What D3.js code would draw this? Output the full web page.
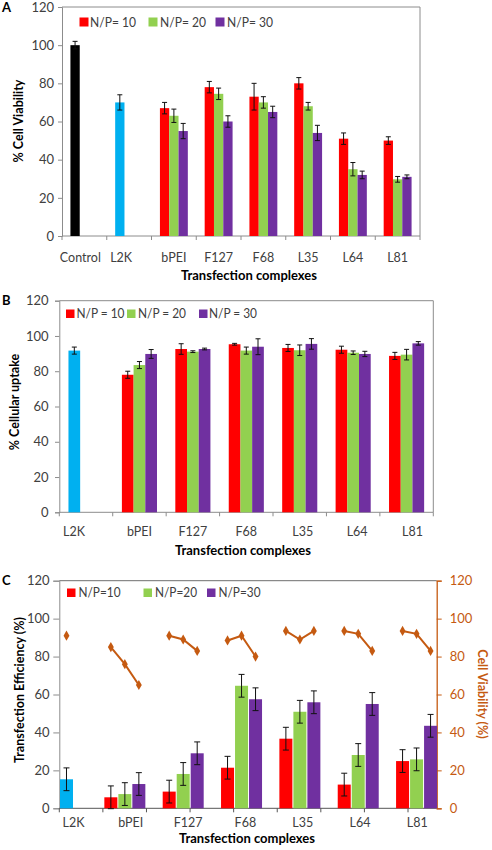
<!DOCTYPE html>
<html><head><meta charset="utf-8">
<script src="https://cdn.jsdelivr.net/npm/d3@7"></script>
<style>
body{margin:0;background:#fff}
svg text{font-family:Lato,'Open Sans',sans-serif}
</style>
</head><body>
<svg id="chart" width="492" height="850"></svg>
<script>
// ---------- DATA ----------
const seriesNames = ["N/P= 10", "N/P= 20", "N/P= 30"];
const seriesNamesB = ["N/P = 10", "N/P = 20", "N/P = 30"];
const seriesNamesC = ["N/P=10", "N/P=20", "N/P=30"];
const yTicks = [0, 20, 40, 60, 80, 100, 120];

// Panel A: % Cell Viability
const catsA = ["Control", "L2K", "bPEI", "F127", "F68", "L35", "L64", "L81"];
const singleA = [{cat: "Control", v: 100, e: 2, color: "#000000"}, {cat: "L2K", v: 70, e: 4, color: "#00b0f0"}];
const np10A = [null, null, 67, 78, 73, 80, 51, 50];
const err10A = [null, null, 3, 3, 7, 3, 3, 2];
const np20A = [null, null, 63, 74.5, 70, 68, 35, 29.7];
const err20A = [null, null, 3.5, 3, 3, 2, 3.5, 1.5];
const np30A = [null, null, 55, 60, 65, 54, 32, 31];
const err30A = [null, null, 4, 3, 3, 4, 2, 1];

// Panel B: % Cellular uptake
const catsB = ["L2K", "bPEI", "F127", "F68", "L35", "L64", "L81"];
const singleB = [{cat: "L2K", v: 91.7, e: 2, color: "#00b0f0"}];
const np10B = [null, 78, 92.6, 95.3, 93.2, 92.2, 88.7];
const err10B = [null, 2, 3, 0.5, 2, 2, 2];
const np20B = [null, 83.5, 91.1, 91.7, 91.9, 90.5, 89.4];
const err20B = [null, 2, 0.5, 2, 3, 1, 3];
const np30B = [null, 89.8, 92.6, 93.9, 95.5, 89.8, 95.8];
const err30B = [null, 2.5, 0.5, 4.5, 3, 1.5, 1];

// Panel C: Transfection efficiency + cell viability
const catsC = ["L2K", "bPEI", "F127", "F68", "L35", "L64", "L81"];
const singleC = [{cat: "L2K", v: 15.3, e: 6, color: "#00b0f0"}];
const np10C = [null, 5.8, 8.8, 21.4, 36.7, 12.5, 24.9];
const np20C = [null, 7.5, 18.1, 64.6, 50.9, 28.1, 25.8];
const np30C = [null, 12.8, 29, 57.5, 55.9, 55, 43.5];
const errC = [null, 6, 6, 6, 6, 6, 6];
const viabL2K = [91];
const viab10C = [null, 85, 91, 88.5, 93.5, 93.5, 93.5];
const viab20C = [null, 76, 89, 91, 89, 92, 92];
const viab30C = [null, 65, 83, 80, 93.5, 83, 83];

// ---------- STYLE ----------
const colors = ["#ff0000", "#92d050", "#7030a0"];
const orange = "#c55a11";
const axisGray = "#8c8c8c";
const tickText = "#404040";

const svg = d3.select("#chart");

function errorBar(g, cx, y, v, e, cap) {
  if (e == null) return;
  const y1 = y(v - e), y2 = y(v + e);
  g.append("line").attr("x1", cx).attr("x2", cx).attr("y1", y1).attr("y2", y2)
    .attr("stroke", "#111").attr("stroke-width", 1);
  [y1, y2].forEach(yy => g.append("line").attr("x1", cx - cap).attr("x2", cx + cap)
    .attr("y1", yy).attr("y2", yy).attr("stroke", "#111").attr("stroke-width", 1));
}

function yAxisLeft(g, y, x0, tickSize, pad) {
  const ax = g.append("g").attr("transform", `translate(${x0},0)`)
    .call(d3.axisLeft(y).tickValues(yTicks).tickSize(tickSize).tickPadding(pad));
  ax.select(".domain").attr("stroke", axisGray);
  ax.selectAll(".tick line").attr("stroke", axisGray);
  ax.selectAll(".tick text").attr("fill", tickText).attr("font-size", 13);
  return ax;
}

function legend(g, names, xs, txs, yTop, sq, ty, fs, tl) {
  names.forEach((n, i) => {
    g.append("rect").attr("x", xs[i]).attr("y", yTop).attr("width", sq).attr("height", sq).attr("fill", colors[i]);
    g.append("text").attr("x", txs[i]).attr("y", ty).attr("font-size", fs).attr("fill", tickText)
      .attr("textLength", tl).attr("lengthAdjust", "spacingAndGlyphs").text(n);
  });
}

function title(g, txt, x, y, rot, fill) {
  g.append("text").attr("transform", `translate(${x},${y}) rotate(${rot})`)
    .attr("text-anchor", "middle").attr("dominant-baseline", "central")
    .attr("font-size", 12.5).attr("font-weight", 700).attr("fill", fill || "#000").text(txt);
}

// ---------- PANEL A ----------
(function () {
  const g = svg.append("g");
  const L = 62, R = 420, T = 7, B = 236;
  const y = d3.scaleLinear().domain([0, 120]).range([B, T]);
  const x = d3.scaleBand().domain(catsA).range([L, R]);
  const bw = 9.3;
  const x1 = d3.scaleBand().domain([0, 1, 2]).range([(x.bandwidth() - 3 * bw) / 2, (x.bandwidth() + 3 * bw) / 2]);
  g.append("line").attr("x1", L).attr("x2", R).attr("y1", T).attr("y2", T).attr("stroke", axisGray);
  g.append("line").attr("x1", R).attr("x2", R).attr("y1", T).attr("y2", B).attr("stroke", axisGray);
  yAxisLeft(g, y, L, 4, 4);
  g.append("line").attr("x1", L).attr("x2", R).attr("y1", B).attr("y2", B).attr("stroke", axisGray);
  d3.range(catsA.length + 1).forEach(k => {
    const xx = L + k * x.bandwidth();
    g.append("line").attr("x1", xx).attr("x2", xx).attr("y1", B).attr("y2", B + 4).attr("stroke", axisGray);
  });
  const shift = {"Control": -4, "L2K": -8};
  catsA.forEach(c => g.append("text").attr("x", x(c) + x.bandwidth() / 2 + (shift[c] || 0)).attr("y", 262)
    .attr("text-anchor", "middle").attr("font-size", 12.5).attr("fill", tickText).text(c));
  singleA.forEach(d => {
    const bx = x(d.cat) + x1(0);
    g.append("rect").attr("x", bx).attr("y", y(d.v)).attr("width", bw).attr("height", y(0) - y(d.v)).attr("fill", d.color);
    errorBar(g, bx + bw / 2, y, d.v, d.e, 2.5);
  });
  [[np10A, err10A], [np20A, err20A], [np30A, err30A]].forEach(([vals, errs], s) => {
    vals.forEach((v, i) => {
      if (v == null) return;
      const bx = x(catsA[i]) + x1(s);
      g.append("rect").attr("x", bx).attr("y", y(v)).attr("width", bw).attr("height", y(0) - y(v)).attr("fill", colors[s]);
      errorBar(g, bx + bw / 2, y, v, errs[i], 2.5);
    });
  });
  legend(g, seriesNames, [79.5, 148.5, 215.5], [90, 160, 227], 17.5, 9, 26.5, 13, 46);
  title(g, "% Cell Viability", 18, 121, -90);
  g.append("text").attr("x", 249).attr("y", 280).attr("text-anchor", "middle").attr("font-size", 13)
    .attr("font-weight", 700).text("Transfection complexes");
  g.append("text").attr("x", 2).attr("y", 12).attr("font-size", 13).attr("font-weight", 700).text("A");
})();

// ---------- PANEL B ----------
(function () {
  const g = svg.append("g");
  const L = 59.3, R = 433.3, T = 300.7, B = 512.3;
  const y = d3.scaleLinear().domain([0, 120]).range([B, T]);
  const x = d3.scaleBand().domain(catsB).range([L, R]);
  const bw = 11.7;
  const x1 = d3.scaleBand().domain([0, 1, 2]).range([(x.bandwidth() - 3 * bw) / 2, (x.bandwidth() + 3 * bw) / 2]);
  g.append("line").attr("x1", L).attr("x2", R).attr("y1", T).attr("y2", T).attr("stroke", axisGray);
  g.append("line").attr("x1", R).attr("x2", R).attr("y1", T).attr("y2", B).attr("stroke", axisGray);
  yAxisLeft(g, y, L, 4.3, 6.5);
  g.append("line").attr("x1", L).attr("x2", R).attr("y1", B).attr("y2", B).attr("stroke", axisGray);
  d3.range(catsB.length + 1).forEach(k => {
    const xx = L + k * x.bandwidth();
    g.append("line").attr("x1", xx).attr("x2", xx).attr("y1", B).attr("y2", B + 4).attr("stroke", axisGray);
  });
  const shift = {"L2K": -12, "L35": 3, "L64": 4, "L81": 6};
  catsB.forEach(c => g.append("text").attr("x", x(c) + x.bandwidth() / 2 + (shift[c] || 0)).attr("y", 536)
    .attr("text-anchor", "middle").attr("font-size", 12.5).attr("fill", tickText).text(c));
  singleB.forEach(d => {
    const bx = x(d.cat) + x1(0);
    g.append("rect").attr("x", bx).attr("y", y(d.v)).attr("width", bw).attr("height", y(0) - y(d.v)).attr("fill", d.color);
    errorBar(g, bx + bw / 2, y, d.v, d.e, 2.5);
  });
  [[np10B, err10B], [np20B, err20B], [np30B, err30B]].forEach(([vals, errs], s) => {
    vals.forEach((v, i) => {
      if (v == null) return;
      const bx = x(catsB[i]) + x1(s);
      g.append("rect").attr("x", bx).attr("y", y(v)).attr("width", bw).attr("height", y(0) - y(v)).attr("fill", colors[s]);
      errorBar(g, bx + bw / 2, y, v, errs[i], 2.5);
    });
  });
  legend(g, seriesNamesB, [66, 127, 199], [76.5, 138, 209], 309.5, 8.5, 317.5, 13, 48);
  title(g, "% Cellular uptake", 14, 402, -90);
  g.append("text").attr("x", 243).attr("y", 555).attr("text-anchor", "middle").attr("font-size", 13)
    .attr("font-weight", 700).text("Transfection complexes");
  g.append("text").attr("x", 2).attr("y", 305).attr("font-size", 13).attr("font-weight", 700).text("B");
})();

// ---------- PANEL C ----------
(function () {
  const g = svg.append("g");
  const L = 59.3, R = 436.7, T = 580.7, B = 808.3;
  const y = d3.scaleLinear().domain([0, 120]).range([B, T]);
  const x = d3.scaleLinear().domain([-0.1234, 6.345]).range([L, R]);
  const xLab = d3.scalePoint().domain(catsC).range([73.5, 417.3]);
  const bw = 13, step = 14;
  const slot = (i, s) => x(i) + (s - 1) * step;
  g.append("line").attr("x1", L).attr("x2", R).attr("y1", T).attr("y2", T).attr("stroke", "#6e6e6e");
  yAxisLeft(g, y, L, 6, 3.8);
  const ar = g.append("g").attr("transform", `translate(${R},0)`)
    .call(d3.axisRight(y).tickValues(yTicks).tickSize(5).tickPadding(8));
  ar.select(".domain").attr("stroke", orange).attr("stroke-width", 1.3);
  ar.selectAll(".tick line").attr("stroke", orange);
  ar.selectAll(".tick text").attr("fill", orange).attr("font-size", 13);
  g.append("line").attr("x1", L).attr("x2", R).attr("y1", B).attr("y2", B).attr("stroke", "#555");
  const tk = d3.scaleLinear().domain([0, 8]).range([L, 408]);
  d3.range(9).forEach(k => g.append("line").attr("x1", tk(k)).attr("x2", tk(k)).attr("y1", B).attr("y2", B + 4).attr("stroke", "#555"));
  catsC.forEach(c => g.append("text").attr("x", xLab(c)).attr("y", 826.5)
    .attr("text-anchor", "middle").attr("font-size", 12.5).attr("fill", tickText).text(c));
  singleC.forEach(d => {
    const i = catsC.indexOf(d.cat);
    const cx = slot(i, 1);
    g.append("rect").attr("x", cx - bw / 2).attr("y", y(d.v)).attr("width", bw).attr("height", y(0) - y(d.v)).attr("fill", d.color);
    errorBar(g, cx, y, d.v, d.e, 3);
  });
  [np10C, np20C, np30C].forEach((vals, s) => {
    vals.forEach((v, i) => {
      if (v == null) return;
      const cx = slot(i, s);
      g.append("rect").attr("x", cx - bw / 2).attr("y", y(v)).attr("width", bw).attr("height", y(0) - y(v)).attr("fill", colors[s]);
      errorBar(g, cx, y, v, errC[i], 3);
    });
  });
  const line = d3.line().x(d => d[0]).y(d => y(d[1]));
  const groups = [[[slot(0, 1), viabL2K[0]]]];
  catsC.forEach((c, i) => {
    if (viab10C[i] == null) return;
    groups.push([[slot(i, 0), viab10C[i]], [slot(i, 1), viab20C[i]], [slot(i, 2), viab30C[i]]]);
  });
  groups.forEach(pts => {
    g.append("path").attr("d", line(pts)).attr("fill", "none").attr("stroke", orange).attr("stroke-width", 2);
    pts.forEach(p => g.append("path").attr("d", d3.symbol(d3.symbolDiamond, 30)())
      .attr("transform", `translate(${p[0]},${y(p[1])})`).attr("fill", orange));
  });
  legend(g, seriesNamesC, [67, 143.5, 207], [78.5, 155, 218.5], 588.5, 8.5, 597, 13, 42);
  title(g, "Transfection Efficiency (%)", 19, 690, -90);
  title(g, "Cell Viability (%)", 482, 694, 90, orange);
  g.append("text").attr("x", 247).attr("y", 843).attr("text-anchor", "middle").attr("font-size", 13)
    .attr("font-weight", 700).text("Transfection complexes");
  g.append("text").attr("x", 2).attr("y", 585).attr("font-size", 13).attr("font-weight", 700).text("C");
})();
</script>
</body></html>
